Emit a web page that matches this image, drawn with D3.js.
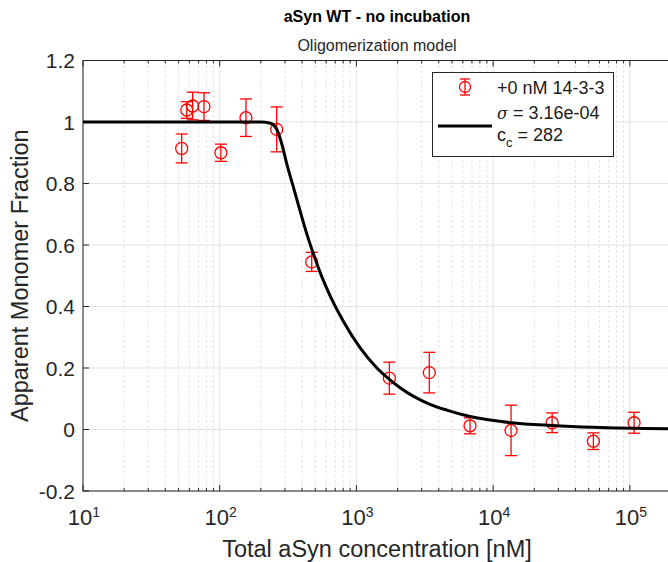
<!DOCTYPE html>
<meta charset="utf-8">
<script src="https://d3js.org/d3.v7.min.js"></script>
<style>
  body { margin: 0; background: #fff; }
  text { font-family: "Liberation Sans", Arial, sans-serif; }
</style>
<div id="my_dataviz"></div>
<script>

// measured points (total aSyn concentration in nM)
var conc = [52.7, 57.4, 63.4, 76.7, 102, 155.6, 261, 471, 1742, 3412, 6776, 13520, 27000, 54100, 107400];
var frac = [0.914, 1.039, 1.052, 1.05, 0.90, 1.014, 0.976, 0.545, 0.167, 0.185, 0.012, -0.003, 0.022, -0.038, 0.022];
var fracErr = [0.047, 0.027, 0.045, 0.045, 0.028, 0.061, 0.073, 0.031, 0.052, 0.066, 0.026, 0.082, 0.032, 0.027, 0.034];

// fitted model curve
var fitConc = [10, 100, 200, 235, 260, 280, 309, 345, 386, 433, 484, 557, 650, 802, 1062, 1406, 1742, 2085, 3451, 4580, 6776, 13520, 27000, 54100, 200000];
var fitFrac = [1.0, 1.0, 1.0, 0.996, 0.978, 0.94, 0.865, 0.79, 0.713, 0.637, 0.572, 0.498, 0.43, 0.352, 0.266, 0.201, 0.163, 0.136, 0.082, 0.063, 0.042, 0.022, 0.013, 0.007, 0.002];

var yTicks = [-0.2, 0, 0.2, 0.4, 0.6, 0.8, 1, 1.2];
var xDecades = [1, 2, 3, 4, 5];

var titleText = "aSyn WT - no incubation";
var subtitleText = "Oligomerization model";
var legendLabels = ["+0 nM 14-3-3", " = 3.16e-04", " = 282"];

// plot box (right edge runs past the window, as in the figure)
var W = 668, H = 562;
var box = {left: 83, right: 671, top: 60.5, bottom: 491};

var svg = d3.select("#my_dataviz")
  .append("svg")
    .attr("width", W)
    .attr("height", H);

var x = d3.scaleLog().domain([10, 2e5]).range([box.left, box.right]);
var y = d3.scaleLinear().domain([-0.2, 1.2]).range([box.bottom, box.top]);

// minor positions 2..9 per decade
var minor = [];
[0].concat(xDecades).forEach(function(e) {
  for (var k = 2; k <= 9; k++) {
    var v = k * Math.pow(10, e);
    if (v > 10 && v < 2e5) minor.push(v);
  }
});
var major = xDecades.map(function(e) { return Math.pow(10, e); });

// grid
svg.append("g").selectAll("line")
  .data(minor)
  .enter().append("line")
    .attr("x1", function(d) { return x(d); })
    .attr("x2", function(d) { return x(d); })
    .attr("y1", box.top).attr("y2", box.bottom)
    .attr("stroke", "#d9d9d9")
    .attr("stroke-dasharray", "2,3")
    .attr("stroke-width", 1);

svg.append("g").selectAll("line")
  .data(major)
  .enter().append("line")
    .attr("x1", function(d) { return x(d); })
    .attr("x2", function(d) { return x(d); })
    .attr("y1", box.top).attr("y2", box.bottom)
    .attr("stroke", "#e3e3e3")
    .attr("stroke-width", 1);

svg.append("g").selectAll("line")
  .data(yTicks)
  .enter().append("line")
    .attr("x1", box.left).attr("x2", box.right)
    .attr("y1", function(d) { return y(d); })
    .attr("y2", function(d) { return y(d); })
    .attr("stroke", "#e3e3e3")
    .attr("stroke-width", 1);

// axes box
svg.append("rect")
  .attr("x", box.left).attr("y", box.top)
  .attr("width", box.right - box.left).attr("height", box.bottom - box.top)
  .attr("fill", "none")
  .attr("stroke", "#262626")
  .attr("stroke-width", 1);

// y ticks (inside)
svg.append("g").selectAll("line")
  .data(yTicks)
  .enter().append("line")
    .attr("x1", box.left).attr("x2", box.left + 6)
    .attr("y1", function(d) { return y(d); })
    .attr("y2", function(d) { return y(d); })
    .attr("stroke", "#262626");

svg.append("g").selectAll("text")
  .data(yTicks)
  .enter().append("text")
    .attr("x", box.left - 8)
    .attr("y", function(d) { return y(d); })
    .attr("dy", "0.36em")
    .attr("text-anchor", "end")
    .attr("font-size", 21)
    .attr("fill", "#262626")
    .text(function(d) { return String(Math.round(d * 10) / 10); });

// x ticks bottom & top
[box.bottom, box.top].forEach(function(yy) {
  var dir = yy == box.bottom ? -1 : 1;
  svg.append("g").selectAll("line")
    .data(major)
    .enter().append("line")
      .attr("x1", function(d) { return x(d); })
      .attr("x2", function(d) { return x(d); })
      .attr("y1", yy).attr("y2", yy + dir * 6)
      .attr("stroke", "#262626");
  svg.append("g").selectAll("line")
    .data(minor)
    .enter().append("line")
      .attr("x1", function(d) { return x(d); })
      .attr("x2", function(d) { return x(d); })
      .attr("y1", yy).attr("y2", yy + dir * 3)
      .attr("stroke", "#262626");
});

var xl = svg.append("g").selectAll("text")
  .data(xDecades)
  .enter().append("text")
    .attr("x", function(d) { return x(Math.pow(10, d)) + 1; })
    .attr("y", 525)
    .attr("text-anchor", "middle")
    .attr("font-size", 22)
    .attr("fill", "#262626");
xl.append("tspan").text("10");
xl.append("tspan")
  .attr("dy", -8)
  .attr("font-size", 14)
  .text(function(d) { return d; });

// axis labels
svg.append("text")
  .attr("x", (box.left + box.right) / 2)
  .attr("y", 557)
  .attr("text-anchor", "middle")
  .attr("font-size", 23.5)
  .attr("fill", "#262626")
  .text("Total aSyn concentration [nM]");

svg.append("text")
  .attr("transform", "translate(28," + ((box.top + box.bottom) / 2) + ") rotate(-90)")
  .attr("text-anchor", "middle")
  .attr("font-size", 23.5)
  .attr("fill", "#262626")
  .text("Apparent Monomer Fraction");

// titles
svg.append("text")
  .attr("x", (box.left + box.right) / 2)
  .attr("y", 22)
  .attr("text-anchor", "middle")
  .attr("font-size", 16)
  .attr("font-weight", "bold")
  .attr("fill", "#000")
  .text(titleText);

svg.append("text")
  .attr("x", (box.left + box.right) / 2)
  .attr("y", 51)
  .attr("text-anchor", "middle")
  .attr("font-size", 16)
  .attr("fill", "#262626")
  .text(subtitleText);

// error bars
var pts = conc.map(function(c, i) { return {c: c, v: frac[i], e: fracErr[i]}; });
var red = "#ff0000";
var eb = svg.append("g").selectAll("g")
  .data(pts)
  .enter().append("g");
eb.append("line")
  .attr("x1", function(d) { return x(d.c); })
  .attr("x2", function(d) { return x(d.c); })
  .attr("y1", function(d) { return y(d.v - d.e); })
  .attr("y2", function(d) { return y(d.v + d.e); })
  .attr("stroke", red).attr("stroke-width", 1.3);
[-1, 1].forEach(function(s) {
  eb.append("line")
    .attr("x1", function(d) { return x(d.c) - 6; })
    .attr("x2", function(d) { return x(d.c) + 6; })
    .attr("y1", function(d) { return y(d.v + s * d.e); })
    .attr("y2", function(d) { return y(d.v + s * d.e); })
    .attr("stroke", red).attr("stroke-width", 1.3);
});
eb.append("circle")
  .attr("cx", function(d) { return x(d.c); })
  .attr("cy", function(d) { return y(d.v); })
  .attr("r", 6)
  .attr("fill", "none")
  .attr("stroke", red).attr("stroke-width", 1.3);

// fit line
var fit = fitConc.map(function(c, i) { return [c, fitFrac[i]]; });
svg.append("path")
  .datum(fit)
  .attr("d", d3.line()
    .x(function(d) { return x(d[0]); })
    .y(function(d) { return y(d[1]); })
    .curve(d3.curveMonotoneX))
  .attr("fill", "none")
  .attr("stroke", "#000")
  .attr("stroke-width", 3);

// legend
var lg = svg.append("g");
lg.append("rect")
  .attr("x", 432.5).attr("y", 72.5)
  .attr("width", 181).attr("height", 84)
  .attr("fill", "#fff")
  .attr("stroke", "#262626");
var lx = 465, ly = 87;
lg.append("line").attr("x1", lx).attr("x2", lx).attr("y1", ly - 8).attr("y2", ly + 8)
  .attr("stroke", red).attr("stroke-width", 1.3);
lg.append("line").attr("x1", lx - 5).attr("x2", lx + 5).attr("y1", ly - 8).attr("y2", ly - 8)
  .attr("stroke", red).attr("stroke-width", 1.3);
lg.append("line").attr("x1", lx - 5).attr("x2", lx + 5).attr("y1", ly + 8).attr("y2", ly + 8)
  .attr("stroke", red).attr("stroke-width", 1.3);
lg.append("circle").attr("cx", lx).attr("cy", ly).attr("r", 5.5)
  .attr("fill", "none").attr("stroke", red).attr("stroke-width", 1.3);
lg.append("line").attr("x1", 438).attr("x2", 492).attr("y1", 126).attr("y2", 126)
  .attr("stroke", "#000").attr("stroke-width", 3);

lg.append("text").attr("x", 497).attr("y", 93.5)
  .attr("font-size", 18).attr("fill", "#1a1a1a")
  .text(legendLabels[0]);
var t2 = lg.append("text").attr("x", 497).attr("y", 119)
  .attr("font-size", 18).attr("fill", "#1a1a1a");
t2.append("tspan").attr("font-style", "italic").attr("font-family", "DejaVu Serif").attr("font-size", 16).text("σ");
t2.append("tspan").text(legendLabels[1]);
var t3 = lg.append("text").attr("x", 497).attr("y", 141)
  .attr("font-size", 18).attr("fill", "#1a1a1a");
t3.append("tspan").text("c");
t3.append("tspan").attr("dy", 6).attr("font-size", 13).text("c");
t3.append("tspan").attr("dy", -6).text(legendLabels[2]);

</script>
